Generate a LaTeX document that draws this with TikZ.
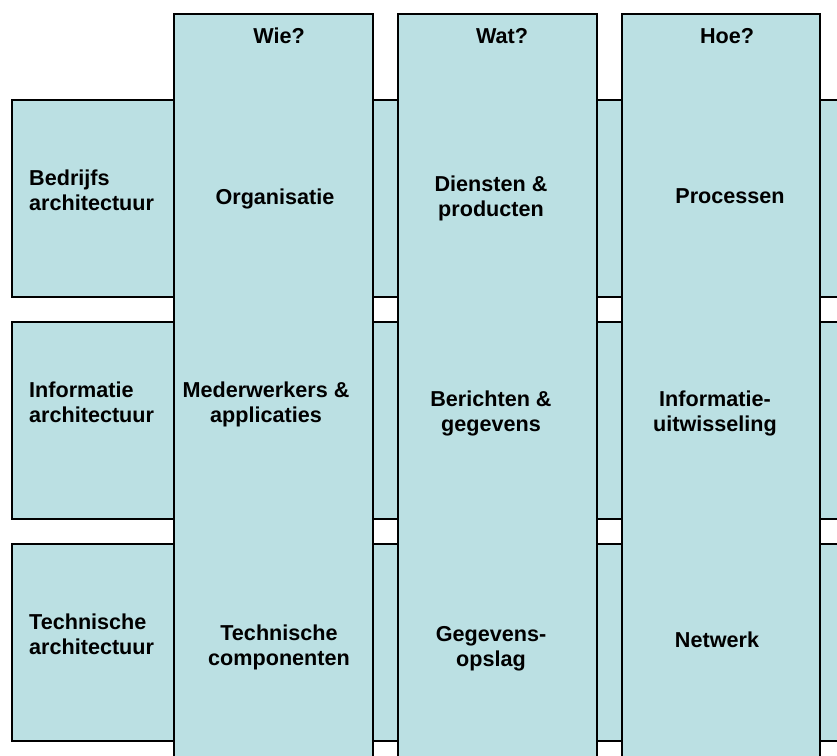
\documentclass[tikz,border=0pt]{standalone}
\usepackage{fontspec}
\setmainfont{Liberation Sans}
\definecolor{cellfill}{RGB}{187,224,227}
\begin{document}
\begin{tikzpicture}[x=1pt,y=-1pt,
  band/.style={draw=black, line width=2.2pt, fill=cellfill},
  lbl/.style={font=\fontsize{21.6}{25}\selectfont\bfseries, inner sep=0pt, text=black},
  rowlbl/.style={lbl, align=left, anchor=base west},
  collbl/.style={lbl, align=center, anchor=base}]
\useasboundingbox (0,0) rectangle (837,755);
\clip (0,0) rectangle (837,755);
% rows
\draw[band] (12,100) rectangle (870,297);
\draw[band] (12,322) rectangle (870,519);
\draw[band] (12,544) rectangle (870,741);
% columns
\draw[band] (174,14) rectangle (373,790);
\draw[band] (398,14) rectangle (597,790);
\draw[band] (622,14) rectangle (820,790);
% titles
\node[collbl] (wie) at (279,43) {Wie?};
\node[collbl] (wat) at (502,43) {Wat?};
\node[collbl] (hoe) at (727,43) {Hoe?};
% row labels (anchor on last line baseline)
\node[rowlbl] (r1) at (29,210) {Bedrijfs\\architectuur};
\node[rowlbl] (r2) at (29,422) {Informatie\\architectuur};
\node[rowlbl] (r3) at (29,654) {Technische\\architectuur};
% cells
\node[collbl] (c11) at (275,204) {Organisatie};
\node[collbl] (c21) at (266,422) {Mederwerkers \&\\applicaties};
\node[collbl] (c31) at (279,665) {Technische\\componenten};
\node[collbl] (c12) at (491,216) {Diensten \&\\producten};
\node[collbl] (c22) at (491,431) {Berichten \&\\gegevens};
\node[collbl] (c32) at (491,666) {Gegevens-\\opslag};
\node[collbl] (c13) at (730,203) {Processen};
\node[collbl] (c23) at (715,431) {Informatie-\\uitwisseling};
\node[collbl] (c33) at (717,647) {Netwerk};
\end{tikzpicture}
\end{document}
